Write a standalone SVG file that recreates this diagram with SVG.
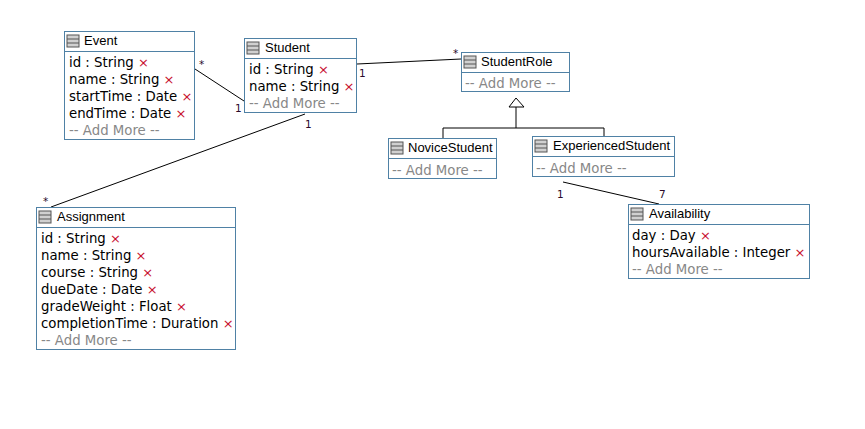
<svg xmlns="http://www.w3.org/2000/svg" width="865" height="429" viewBox="0 0 865 429">
<style>
.box{fill:#fff;stroke:#4f81a5;stroke-width:1}
.sep{stroke:#4f81a5;stroke-width:1}
.hd{font-family:"Liberation Sans",Arial,sans-serif;font-size:13px;fill:#000}
.at{font-family:"DejaVu Sans",Verdana,sans-serif;font-size:13.3px;fill:#000}
.add{font-family:"DejaVu Sans",Verdana,sans-serif;font-size:13.3px;fill:#888}
.x{fill:#c8102e;font-size:13px}
.conn{stroke:#000;stroke-width:1;fill:none}
.m{font-family:"DejaVu Sans",Verdana,sans-serif;font-size:10.5px;fill:#2a0a2a}
</style>
<defs>
<g id="icon">
<rect x="0.5" y="0.5" width="12" height="12" fill="#d0d0d0" stroke="#555"/>
<line x1="0.5" y1="4.5" x2="12.5" y2="4.5" stroke="#555"/>
<line x1="0.5" y1="8.5" x2="12.5" y2="8.5" stroke="#555"/>
</g>
</defs>
<rect width="865" height="429" fill="#fff"/>

<g id="connectors">
<line class="conn" x1="195" y1="69" x2="244" y2="101"/>
<text class="m" x="199" y="68">*</text>
<text class="m" x="235" y="112">1</text>
<polyline class="conn" points="357,64 461,59"/>
<text class="m" x="359" y="77">1</text>
<text class="m" x="453" y="57">*</text>
<line class="conn" x1="305" y1="114" x2="51" y2="207"/>
<text class="m" x="305" y="128">1</text>
<text class="m" x="43" y="205">*</text>
<line class="conn" x1="563" y1="182" x2="659" y2="204"/>
<text class="m" x="557" y="198">1</text>
<text class="m" x="659" y="198">7</text>
<polyline class="conn" points="443,138 443,128 604,128 604,136"/>
<line class="conn" x1="516" y1="107" x2="516" y2="128"/>
<polygon points="516,98 509,107 524,107" fill="#fff" stroke="#000"/>
</g>

<g id="Event">
<rect class="box" x="64.5" y="31.5" width="130" height="108"/>
<line class="sep" x1="64.5" y1="51.5" x2="194.5" y2="51.5"/>
<use href="#icon" x="66.5" y="34.5"/>
<text class="hd" x="84" y="45">Event</text>
<text class="at" x="69" y="67">id : String <tspan class="x">×</tspan></text>
<text class="at" x="69" y="84">name : String <tspan class="x">×</tspan></text>
<text class="at" x="69" y="101">startTime : Date <tspan class="x">×</tspan></text>
<text class="at" x="69" y="118">endTime : Date <tspan class="x">×</tspan></text>
<text class="add" x="69" y="135">-- Add More --</text>
</g>

<g id="Student">
<rect class="box" x="244.5" y="38.5" width="112" height="74"/>
<line class="sep" x1="244.5" y1="58.5" x2="356.5" y2="58.5"/>
<use href="#icon" x="246.5" y="41.5"/>
<text class="hd" x="265" y="52">Student</text>
<text class="at" x="249" y="74">id : String <tspan class="x">×</tspan></text>
<text class="at" x="249" y="91">name : String <tspan class="x">×</tspan></text>
<text class="add" x="249" y="108">-- Add More --</text>
</g>

<g id="StudentRole">
<rect class="box" x="461.5" y="52.5" width="108" height="39"/>
<line class="sep" x1="461.5" y1="72.5" x2="569.5" y2="72.5"/>
<use href="#icon" x="463.5" y="55.5"/>
<text class="hd" x="481" y="66">StudentRole</text>
<text class="add" x="465" y="88">-- Add More --</text>
</g>

<g id="NoviceStudent">
<rect class="box" x="388.5" y="138.5" width="108" height="40"/>
<line class="sep" x1="388.5" y1="158.5" x2="496.5" y2="158.5"/>
<use href="#icon" x="390.5" y="141.5"/>
<text class="hd" x="408" y="152">NoviceStudent</text>
<text class="add" x="392" y="175">-- Add More --</text>
</g>

<g id="ExperiencedStudent">
<rect class="box" x="532.5" y="136.5" width="142" height="40"/>
<line class="sep" x1="532.5" y1="156.5" x2="674.5" y2="156.5"/>
<use href="#icon" x="534.5" y="139.5"/>
<text class="hd" x="553" y="150">ExperiencedStudent</text>
<text class="add" x="536" y="173">-- Add More --</text>
</g>

<g id="Availability">
<rect class="box" x="628.5" y="204.5" width="181" height="74"/>
<line class="sep" x1="628.5" y1="224.5" x2="809.5" y2="224.5"/>
<use href="#icon" x="630.5" y="207.5"/>
<text class="hd" x="649" y="218">Availability</text>
<text class="at" x="632" y="240">day : Day <tspan class="x">×</tspan></text>
<text class="at" x="632" y="257">hoursAvailable : Integer <tspan class="x">×</tspan></text>
<text class="add" x="632" y="274">-- Add More --</text>
</g>

<g id="Assignment">
<rect class="box" x="36.5" y="207.5" width="199" height="142"/>
<line class="sep" x1="36.5" y1="227.5" x2="235.5" y2="227.5"/>
<use href="#icon" x="38.5" y="210.5"/>
<text class="hd" x="57" y="221">Assignment</text>
<text class="at" x="41" y="243">id : String <tspan class="x">×</tspan></text>
<text class="at" x="41" y="260">name : String <tspan class="x">×</tspan></text>
<text class="at" x="41" y="277">course : String <tspan class="x">×</tspan></text>
<text class="at" x="41" y="294">dueDate : Date <tspan class="x">×</tspan></text>
<text class="at" x="41" y="311">gradeWeight : Float <tspan class="x">×</tspan></text>
<text class="at" x="41" y="328">completionTime : Duration <tspan class="x">×</tspan></text>
<text class="add" x="41" y="345">-- Add More --</text>
</g>
</svg>
